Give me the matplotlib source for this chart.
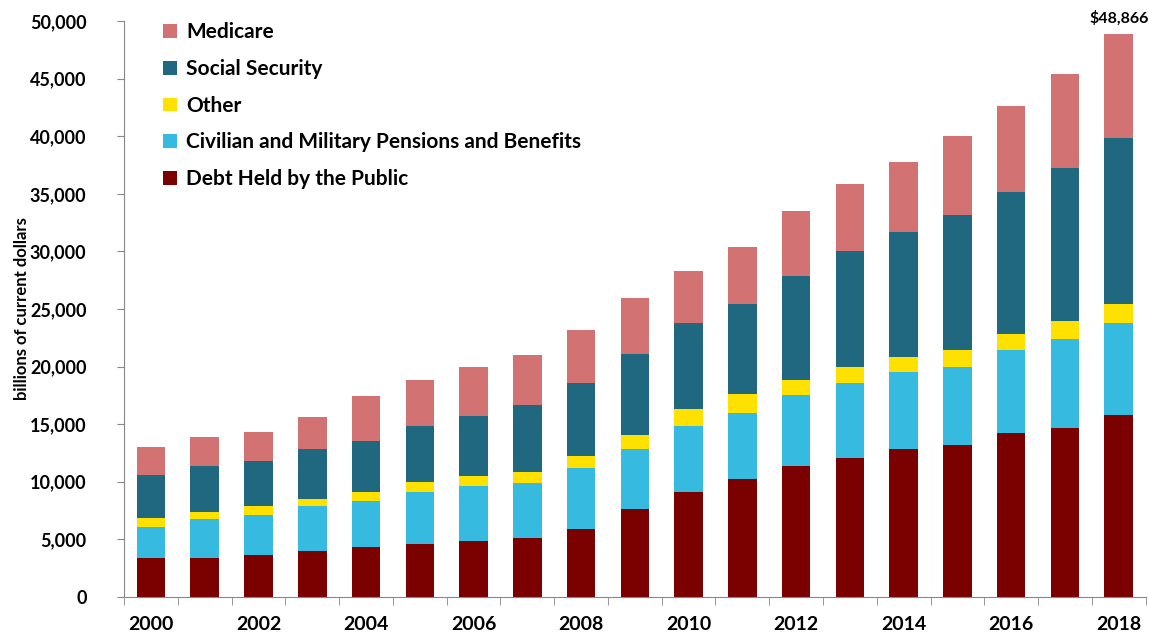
import matplotlib
matplotlib.use("Agg")
import matplotlib.pyplot as plt
import numpy as np

plt.rcParams["font.family"] = ["Lato", "DejaVu Sans"]
plt.rcParams["font.weight"] = "bold"

years = list(range(2000, 2019))

# billions of current dollars (per component)
debt = [3.41, 3.41, 3.65, 3.99, 4.37, 4.60, 4.86, 5.15, 5.87, 7.61, 9.11,
        10.24, 11.37, 12.09, 12.88, 13.22, 14.21, 14.70, 15.83]
civ_mil = [2.69, 3.36, 3.47, 3.88, 3.99, 4.51, 4.75, 4.72, 5.36, 5.27, 5.76,
           5.76, 6.19, 6.49, 6.68, 6.72, 7.23, 7.72, 7.95]
other = [0.78, 0.61, 0.75, 0.64, 0.75, 0.87, 0.87, 0.98, 1.01, 1.21, 1.45,
         1.59, 1.28, 1.39, 1.27, 1.50, 1.36, 1.51, 1.65]
soc_sec = [3.71, 3.99, 3.96, 4.34, 4.46, 4.86, 5.23, 5.82, 6.34, 6.98, 7.49,
           7.81, 9.02, 10.06, 10.83, 11.69, 12.33, 13.34, 14.44]
medicare = [2.41, 2.49, 2.52, 2.75, 3.88, 4.00, 4.26, 4.33, 4.60, 4.86, 4.49,
            5.01, 5.65, 5.82, 6.10, 6.86, 7.47, 8.10, 8.996]

series = [
    ("Debt Held by the Public", debt, "#7B0000"),
    ("Civilian and Military Pensions and Benefits", civ_mil, "#36BAE0"),
    ("Other", other, "#FFE100"),
    ("Social Security", soc_sec, "#1F6880"),
    ("Medicare", medicare, "#D27272"),
]

fig = plt.figure(figsize=(11.49, 6.37), dpi=100)
ax = fig.add_axes([0.108, 0.063, 0.889, 0.904])

x = np.arange(len(years))
bottom = np.zeros(len(years))
handles = []
for name, vals, color in series:
    v = np.array(vals) * 1000
    h = ax.bar(x, v, width=0.53, bottom=bottom, color=color, label=name,
               edgecolor="none")
    handles.append(h)
    bottom += v

# total label over the last bar
ax.text(x[-1], 49600, "$48,866", ha="center", va="bottom", fontsize=11.5,
        fontweight="bold")

ax.set_xlim(-0.5, len(years) - 0.5)
ax.set_ylim(0, 50000)
ax.set_yticks(np.arange(0, 50001, 5000))
ax.set_yticklabels([f"{v:,}" for v in range(0, 50001, 5000)], fontsize=13,
                   fontweight="bold")
ax.set_xticks(x[::2])
ax.set_xticklabels([str(y) for y in years[::2]], fontsize=14,
                   fontweight="bold")
ax.set_xticks(np.arange(-0.5, len(years)), minor=True)
ax.tick_params(axis="x", which="major", length=0, pad=14)
ax.tick_params(axis="x", which="minor", length=6, color="#888888")
ax.tick_params(axis="y", length=5, color="#888888", pad=22)

for side in ("top", "right"):
    ax.spines[side].set_visible(False)
for side in ("left", "bottom"):
    ax.spines[side].set_color("#888888")

ax.set_ylabel("billions of current dollars", fontsize=12, fontweight="bold",
              labelpad=0)

ax.legend(handles[::-1], [s[0] for s in series[::-1]], loc="upper left",
          bbox_to_anchor=(0.02, 1.03), frameon=False,
          handlelength=0.65, handleheight=0.65, handletextpad=0.45,
          labelspacing=0.8, prop={"weight": "bold", "size": 15})

fig.savefig("out.png", dpi=100)
